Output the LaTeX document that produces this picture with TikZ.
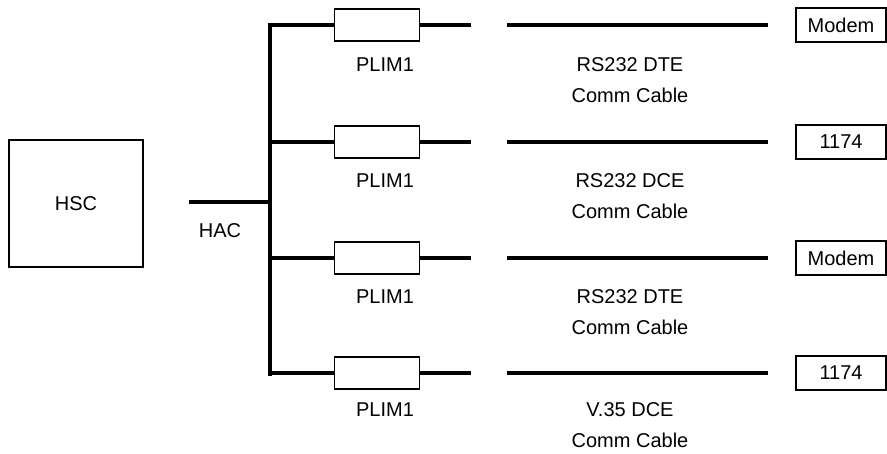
\documentclass[tikz,border=0pt]{standalone}
\usepackage{fontspec}
\setmainfont{Liberation Sans}
\usetikzlibrary{positioning, calc}

\begin{document}
\begin{tikzpicture}[
        x=1pt,
        y=-1pt,
        font=\fontsize{20}{24}\selectfont,
        heavy/.style={
            line width=4pt
        },
        busline/.style={
            line width=3.2pt
        },
        hostbox/.style={
            draw,
            line width=2.5pt,
            minimum width=134pt,
            minimum height=127pt,
            inner sep=0pt
        },
        plimbox/.style={
            draw,
            line width=1.5pt,
            minimum width=85pt,
            minimum height=32pt,
            inner sep=0pt
        },
        devbox/.style={
            draw,
            line width=1.2pt,
            minimum width=90pt,
            minimum height=34pt,
            inner sep=0pt
        },
        cablelabel/.style={
            align=center,
            font=\fontsize{20}{31}\selectfont
        }
    ]

    \useasboundingbox (0,0) rectangle (887,453);

    % --------------------------------------------------------
    % Host side
    % --------------------------------------------------------

    \node[
        hostbox
    ]
    (hsc)
    at (76,203.5) {HSC};

    \coordinate (hacL) at (189,202);
    \coordinate (hacR) at (268,202);

    \draw[
        heavy
    ]
    (hacL) -- (hacR);

    \node
    (hac)
    at (220,231) {HAC};

    % --------------------------------------------------------
    % Vertical bus
    % --------------------------------------------------------

    \coordinate (busT) at (270,23);
    \coordinate (busB) at (270,376);

    \draw[
        busline
    ]
    (busT) -- (busB);

    % --------------------------------------------------------
    % Four branches: PLIM, cable, end device
    % --------------------------------------------------------

    \foreach \y/\ly/\cable/\dev [count=\i] in {
        25/65/RS232 DTE/Modem,
        142/181/RS232 DCE/1174,
        258/297/RS232 DTE/Modem,
        373/410/V.35 DCE/1174
    } {

        \coordinate (tap\i) at (270,\y);

        \node[
            plimbox
        ]
        (plim\i)
        at (377,\y) {};

        \node
        (plimlab\i)
        at (385,\ly) {PLIM1};

        \draw[
            heavy
        ]
        (tap\i) -- (plim\i.west);

        \coordinate (stub\i) at (471,\y);

        \draw[
            heavy
        ]
        (plim\i.east) -- (stub\i);

        \coordinate (cabA\i) at (507,\y);
        \coordinate (cabB\i) at (768,\y);

        \draw[
            heavy
        ]
        (cabA\i) -- (cabB\i);

        \node[
            cablelabel
        ]
        (cablab\i)
        at (630,\ly+15.5) {\cable\\Comm Cable};

        \node[
            devbox
        ]
        (dev\i)
        at (841,\y) {\dev};

    }

\end{tikzpicture}
\end{document}
